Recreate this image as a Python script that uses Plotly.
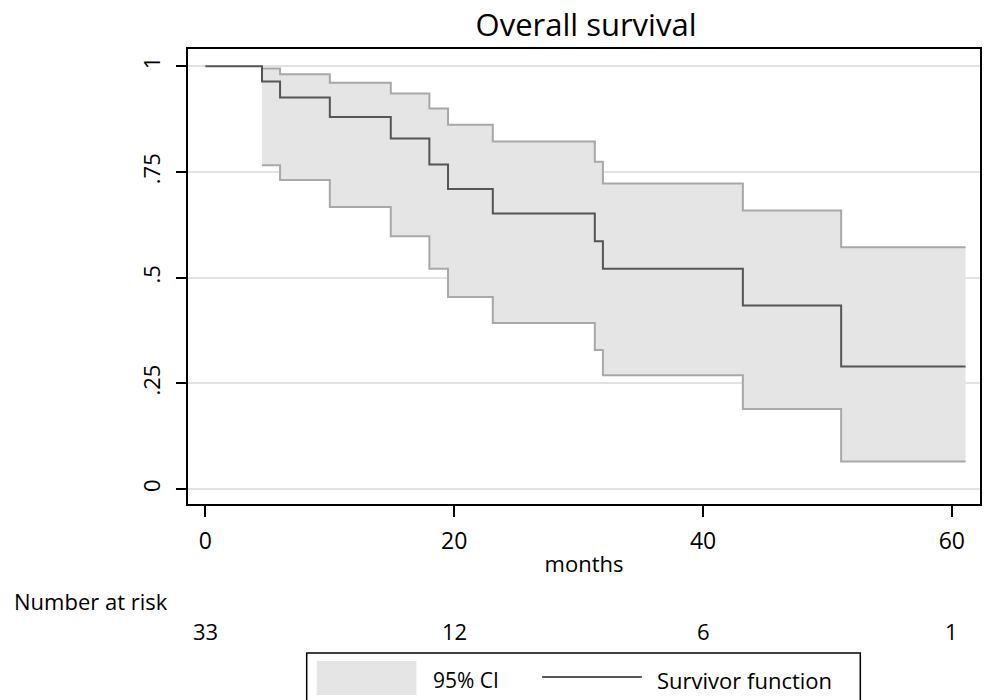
import plotly.graph_objects as go

# ---- data ----
months = [0, 4.55, 6.0, 10.0, 14.9, 18.0, 19.5, 23.1, 31.3, 31.95, 43.2, 51.1, 61.1]
survival = [1.0, 0.964, 0.926, 0.880, 0.829, 0.768, 0.710, 0.652, 0.586, 0.521, 0.434, 0.290, 0.290]

ci_months = [4.55, 6.0, 10.0, 14.9, 18.0, 19.5, 23.1, 31.3, 31.95, 43.2, 51.1, 61.1]
ci_upper = [0.995, 0.981, 0.961, 0.936, 0.900, 0.862, 0.822, 0.774, 0.723, 0.659, 0.572, 0.572]
ci_lower = [0.766, 0.731, 0.667, 0.598, 0.521, 0.454, 0.393, 0.329, 0.269, 0.189, 0.065, 0.065]

risk_months = [0, 20, 40, 60]
risk_counts = [33, 12, 6, 1]

y_ticks = [0, 0.25, 0.5, 0.75, 1]
y_ticklabels = ["0", ".25", ".5", ".75", "1"]
x_ticks = [0, 20, 40, 60]

FONT = "'Open Sans', Lato, sans-serif"
FILL = "#e5e5e5"
CI_LINE = "#a8a8a8"
SURV_LINE = "#555555"

fig = go.Figure()

fig.add_trace(go.Scatter(
    x=ci_months, y=ci_upper, mode="lines", line=dict(shape="hv", color=CI_LINE, width=2),
    showlegend=False, hoverinfo="skip"))
fig.add_trace(go.Scatter(
    x=ci_months, y=ci_lower, mode="lines", line=dict(shape="hv", color=CI_LINE, width=2),
    fill="tonexty", fillcolor=FILL, showlegend=False, hoverinfo="skip"))
fig.add_trace(go.Scatter(
    x=months, y=survival, mode="lines", line=dict(shape="hv", color=SURV_LINE, width=2),
    showlegend=False))

W, H = 991, 700
L, R, T, B = 188, 9, 49, 196
pw = W - L - R
ph = H - T - B

def px_to_paper_x(px):
    return (px - L) / pw

def px_to_paper_y(py):
    return (H - B - py) / ph

annotations = []
# number at risk
annotations.append(dict(text="Number at risk", x=px_to_paper_x(12), y=px_to_paper_y(601),
                        xref="paper", yref="paper", xanchor="left", yanchor="middle",
                        showarrow=False, font=dict(size=22, color="black", family=FONT)))
for m, c in zip(risk_months, risk_counts):
    annotations.append(dict(text=str(c), x=m, y=px_to_paper_y(631), xref="x", yref="paper",
                            xanchor="center", yanchor="middle", showarrow=False,
                            font=dict(size=22, color="black", family=FONT)))
# legend text
annotations.append(dict(text="95% CI", x=px_to_paper_x(432), y=px_to_paper_y(680),
                        xref="paper", yref="paper", xanchor="left", yanchor="middle",
                        showarrow=False, font=dict(size=21, color="black", family=FONT)))
annotations.append(dict(text="Survivor function", x=px_to_paper_x(656), y=px_to_paper_y(680),
                        xref="paper", yref="paper", xanchor="left", yanchor="middle",
                        showarrow=False, font=dict(size=22, color="black", family=FONT)))

shapes = [
    dict(type="rect", xref="paper", yref="paper",
         x0=px_to_paper_x(307), x1=px_to_paper_x(862), y0=px_to_paper_y(703), y1=px_to_paper_y(653),
         line=dict(color="black", width=1.5), fillcolor="white", layer="above"),
    dict(type="rect", xref="paper", yref="paper",
         x0=px_to_paper_x(317), x1=px_to_paper_x(417), y0=px_to_paper_y(695), y1=px_to_paper_y(661),
         line=dict(width=0), fillcolor=FILL, layer="above"),
    dict(type="line", xref="paper", yref="paper",
         x0=px_to_paper_x(543), x1=px_to_paper_x(643), y0=px_to_paper_y(677), y1=px_to_paper_y(677),
         line=dict(color=SURV_LINE, width=2), layer="above"),
]

fig.update_layout(
    width=W, height=H,
    margin=dict(l=L, r=R, t=T, b=B, pad=0),
    paper_bgcolor="white", plot_bgcolor="white",
    font=dict(family=FONT, size=20, color="black"),
    title=dict(text="Overall survival", x=586 / W, xanchor="center", y=1 - 25 / H, yanchor="middle",
               font=dict(size=31, family=FONT, color="black")),
    xaxis=dict(range=[-1.40, 62.26], tickvals=x_ticks, ticks="outside", ticklen=11, tickwidth=1.5,
               tickcolor="black", showgrid=False, zeroline=False, showline=True, linecolor="black",
               linewidth=1.5, mirror=True, tickfont=dict(size=23, family=FONT), ticklabelstandoff=5,
               title=dict(text="months", font=dict(size=22, family=FONT), standoff=1)),
    yaxis=dict(range=[-0.0355, 1.041], tickvals=y_ticks, ticktext=y_ticklabels, tickangle=-90,
               ticks="outside", ticklen=10, tickwidth=1.5, tickcolor="black",
               showgrid=True, gridcolor="#e2e2e2", gridwidth=2, zeroline=False,
               showline=True, linecolor="black", linewidth=1.5, mirror=True,
               tickfont=dict(size=22, family=FONT), ticklabelstandoff=7),
    annotations=annotations,
    shapes=shapes,
)

fig.write_html("out.html", config={"displayModeBar": False},
               post_script="document.body.style.margin='0px';document.body.style.overflow='hidden';")
